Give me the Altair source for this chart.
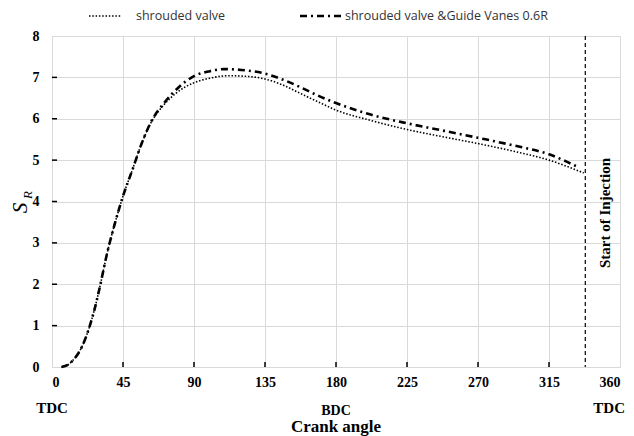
import altair as alt
import pandas as pd

# Shrouded valve (dotted)
angle_sv = [6, 10, 13, 17, 21, 24, 27, 30, 35, 40, 45, 51, 57, 63, 71, 78, 90, 100, 112, 125,
            135, 146, 157, 168, 180, 202, 225, 247, 270, 292, 315, 337]
sr_sv = [0.0, 0.05, 0.15, 0.35, 0.67, 1.0, 1.4, 1.88, 2.76, 3.49, 4.13, 4.77, 5.42, 5.92, 6.34, 6.6,
         6.87, 6.98, 7.04, 7.02, 6.96, 6.82, 6.62, 6.42, 6.21, 5.96, 5.74, 5.57, 5.40, 5.22, 5.00, 4.69]

# Shrouded valve & Guide Vanes 0.6R (dash-dot)
angle_gv = [6, 10, 13, 17, 21, 24, 27, 30, 35, 40, 45, 51, 57, 63, 71, 80, 90, 100, 109, 120,
            135, 146, 157, 168, 180, 202, 225, 247, 270, 292, 315, 333]
sr_gv = [0.0, 0.05, 0.15, 0.35, 0.67, 1.0, 1.4, 1.88, 2.76, 3.49, 4.13, 4.77, 5.42, 5.94, 6.38, 6.75,
         7.03, 7.15, 7.2, 7.18, 7.09, 6.95, 6.77, 6.57, 6.38, 6.1, 5.89, 5.72, 5.54, 5.36, 5.14, 4.84]

x_ticks = [0, 45, 90, 135, 180, 225, 270, 315, 360]
y_ticks = [0, 1, 2, 3, 4, 5, 6, 7, 8]
tdc_left = [0]
bdc_angle = [180]
tdc_right = [360]
injection_angle = [338]
legend_labels = ["shrouded valve", "shrouded valve &Guide Vanes 0.6R"]

W, H = 568, 331
SERIF = "Liberation Serif"

xs = alt.Scale(domain=[0, 360], nice=False)
ys = alt.Scale(domain=[0, 8], nice=False)

df_sv = pd.DataFrame({"angle": angle_sv, "sr": sr_sv})
df_gv = pd.DataFrame({"angle": angle_gv, "sr": sr_gv})

x_axis = alt.Axis(values=x_ticks, grid=True, gridColor="#d9d9d9", gridWidth=1, domain=False,
                  ticks=False, labelFont=SERIF, labelFontWeight="bold", labelFontSize=14,
                  labelColor="black", labelPadding=8, title=None)
y_axis = alt.Axis(values=y_ticks, grid=True, gridColor="#d9d9d9", gridWidth=1, domain=False,
                  ticks=False, labelFont=SERIF, labelFontWeight="bold", labelFontSize=14,
                  labelColor="black", labelPadding=13, title=None)

line_sv = alt.Chart(df_sv).mark_line(color="black", strokeWidth=1.6, strokeDash=[1.5, 1.8],
                                     interpolate="monotone").encode(
    x=alt.X("angle:Q", scale=xs, axis=x_axis),
    y=alt.Y("sr:Q", scale=ys, axis=y_axis),
)
line_gv = alt.Chart(df_gv).mark_line(color="black", strokeWidth=2.6, strokeDash=[7, 4, 2, 4],
                                     interpolate="monotone").encode(
    x=alt.X("angle:Q", scale=xs),
    y=alt.Y("sr:Q", scale=ys),
)

# inward tick marks
xt = alt.Chart(pd.DataFrame({"t": x_ticks[1:-1]})).mark_rule(color="black", strokeWidth=1.5).encode(
    x=alt.X("t:Q", scale=xs), y=alt.value(H), y2=alt.value(H - 5))
yt = alt.Chart(pd.DataFrame({"t": y_ticks[1:-1]})).mark_rule(color="black", strokeWidth=1.5).encode(
    y=alt.Y("t:Q", scale=ys), x=alt.value(0), x2=alt.value(5))

inj = alt.Chart(pd.DataFrame({"a": injection_angle})).mark_rule(
    color="black", strokeWidth=1.2, strokeDash=[4, 3]).encode(
    x=alt.X("a:Q", scale=xs), y=alt.value(0), y2=alt.value(H))
inj_text = alt.Chart(pd.DataFrame({"a": injection_angle, "t": ["Start of Injection"]})).mark_text(
    angle=270, font=SERIF, fontWeight="bold", fontSize=15, color="black", dy=20).encode(
    x=alt.X("a:Q", scale=xs), y=alt.value(177), text="t:N")

dc_l = alt.Chart(pd.DataFrame({"a": tdc_left, "t": ["TDC"]})).mark_text(
    font=SERIF, fontWeight="bold", fontSize=15, color="black", baseline="middle").encode(
    x=alt.X("a:Q", scale=xs), y=alt.value(H + 41), text="t:N")
dc_m = alt.Chart(pd.DataFrame({"a": bdc_angle, "t": ["BDC"]})).mark_text(
    font=SERIF, fontWeight="bold", fontSize=14, color="black", baseline="middle").encode(
    x=alt.X("a:Q", scale=xs), y=alt.value(H + 44), text="t:N")
dc_r = alt.Chart(pd.DataFrame({"a": tdc_right, "t": ["TDC"]})).mark_text(
    font=SERIF, fontWeight="bold", fontSize=15, color="black", baseline="middle",
    align="right", dx=5).encode(
    x=alt.X("a:Q", scale=xs), y=alt.value(H + 41), text="t:N")

title = alt.Chart(pd.DataFrame({"a": bdc_angle, "t": ["Crank angle"]})).mark_text(
    font=SERIF, fontWeight="bold", fontSize=17, color="black", baseline="alphabetic").encode(
    x=alt.X("a:Q", scale=xs), y=alt.value(H + 65), text="t:N")

s_text = alt.Chart(pd.DataFrame({"t": ["S"]})).mark_text(
    angle=270, font=SERIF, fontStyle="italic", fontSize=21, color="black").encode(
    x=alt.value(-31), y=alt.value(172), text="t:N")
r_text = alt.Chart(pd.DataFrame({"t": ["R"]})).mark_text(
    angle=270, font=SERIF, fontStyle="italic", fontSize=13, color="black").encode(
    x=alt.value(-24), y=alt.value(159), text="t:N")

# legend
leg_sv = alt.Chart(pd.DataFrame({"a": [0]})).mark_rule(
    color="black", strokeWidth=1.5, strokeDash=[1.5, 1.8]).encode(
    x=alt.value(37), x2=alt.value(70), y=alt.value(-20))
leg_gv = alt.Chart(pd.DataFrame({"a": [0]})).mark_rule(
    color="black", strokeWidth=2.6, strokeDash=[7, 4, 2, 4]).encode(
    x=alt.value(248), x2=alt.value(289), y=alt.value(-20))
leg_t = alt.Chart(pd.DataFrame({"t": legend_labels, "px": [84, 293]})).mark_text(
    font="Open Sans", fontSize=12.5, color="#333333", align="left", baseline="middle").encode(
    x=alt.X("px:Q", scale=None), y=alt.value(-20), text="t:N")

chart = alt.layer(line_sv, line_gv, xt, yt, inj, inj_text, dc_l, dc_m, dc_r, title,
                  s_text, r_text, leg_sv, leg_gv, leg_t).properties(
    width=W, height=H,
    autosize=alt.AutoSizeParams(type="none"),
    padding={"left": 44, "top": 28, "right": 6, "bottom": 69},
).configure_view(stroke="black", strokeWidth=2).configure(background="white")

chart.save("out.html", embed_options={"renderer": "svg", "actions": False})
